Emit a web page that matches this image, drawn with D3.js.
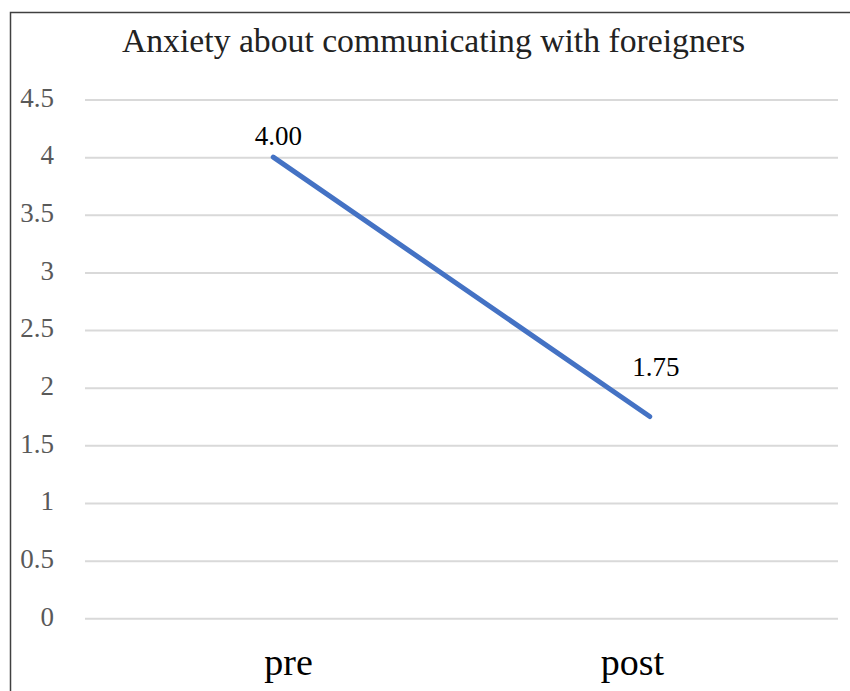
<!DOCTYPE html>
<html>
<head>
<meta charset="utf-8">
<script src="https://cdn.jsdelivr.net/npm/d3@7"></script>
<style>
  html, body { margin: 0; padding: 0; background: #fff; }
  svg { display: block; }
</style>
</head>
<body>
<svg id="chart" width="850" height="691"></svg>
<script>
// Chart data
const title = "Anxiety about communicating with foreigners";
const categories = ["pre", "post"];
const values = [4.00, 1.75];
const valueLabels = ["4.00", "1.75"];
const yTicks = [0, 0.5, 1, 1.5, 2, 2.5, 3, 3.5, 4, 4.5];

const svg = d3.select("#chart");
const W = 850, H = 691;
const margin = { top: 99.5, right: 12, bottom: 73, left: 85 };
const serif = "'Liberation Serif', 'Times New Roman', serif";

// Frame
svg.append("rect")
  .attr("x", 10.5).attr("y", 12.5)
  .attr("width", W).attr("height", H)
  .attr("fill", "#fff")
  .attr("stroke", "#404040").attr("stroke-width", 1.5);

const x = d3.scalePoint()
  .domain(categories)
  .range([margin.left, W - margin.right])
  .padding(0.5);

// Category labels sit a little closer together than the data points
const xLabel = d3.scalePoint()
  .domain(categories)
  .range([288, 632]);

const y = d3.scaleLinear()
  .domain([0, 4.5])
  .range([H - margin.bottom + 0.3, margin.top]);

// Gridlines + y labels
const yAxis = d3.axisLeft(y)
  .tickValues(yTicks)
  .tickFormat(d3.format("~g"))
  .tickSize(-(W - margin.right - margin.left))
  .tickPadding(31);

const gy = svg.append("g")
  .attr("transform", `translate(${margin.left},0)`)
  .call(yAxis);
gy.select(".domain").remove();
gy.selectAll(".tick line")
  .attr("stroke", "#d9d9d9").attr("stroke-width", 2);
gy.selectAll(".tick text")
  .attr("fill", "#595959")
  .attr("dy", "0.25em")
  .style("font-family", serif)
  .style("font-size", "27px");

// X labels
const xAxis = d3.axisBottom(xLabel).tickSize(0).tickPadding(0);
const gx = svg.append("g")
  .attr("transform", `translate(0,${H - margin.bottom})`)
  .call(xAxis);
gx.select(".domain").remove();
gx.selectAll(".tick text")
  .attr("dy", null)
  .attr("y", 57)
  .attr("fill", "#000")
  .style("font-family", serif)
  .style("font-size", "38px");

// Line
const pts = categories.map((c, i) => ({ c, v: values[i], label: valueLabels[i] }));
svg.append("path")
  .datum(pts)
  .attr("fill", "none")
  .attr("stroke", "#4472C4")
  .attr("stroke-width", 5)
  .attr("stroke-linecap", "round")
  .attr("d", d3.line().x(d => x(d.c)).y(d => y(d.v)));

// Value labels (first sits just over its point, second is lifted clear of the gridline)
const labelDx = [5, 6];
const labelDy = [-12, -41];
svg.selectAll(".vlabel")
  .data(pts)
  .enter().append("text")
  .attr("class", "vlabel")
  .attr("x", (d, i) => x(d.c) + labelDx[i])
  .attr("y", (d, i) => y(d.v) + labelDy[i])
  .attr("text-anchor", "middle")
  .attr("fill", "#000")
  .style("font-family", serif)
  .style("font-size", "27px")
  .text(d => d.label);

// Title
svg.append("text")
  .attr("x", 433.5)
  .attr("y", 52)
  .attr("text-anchor", "middle")
  .attr("fill", "#222")
  .style("font-family", serif)
  .style("font-size", "33.7px")
  .text(title);
</script>
</body>
</html>
